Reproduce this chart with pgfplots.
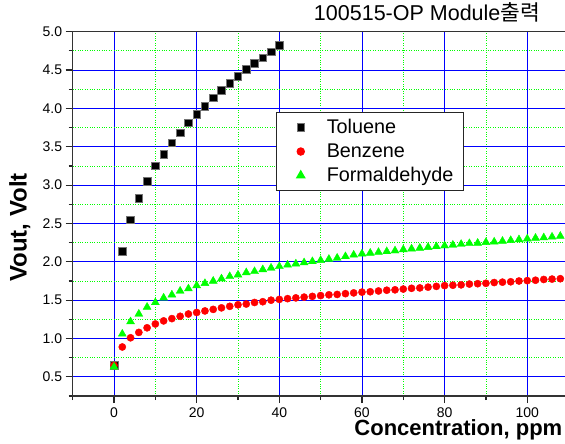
\documentclass[border=0pt]{standalone}
\usepackage{fontspec}
\setmainfont{Liberation Sans}
\newfontfamily\krfont{Noto Sans CJK KR}
\usepackage{pgfplots}
\pgfplotsset{compat=1.18}
\pgfplotsset{myleg/.style={legend image code/.code={%
  \path[draw=none,fill=none] (0pt,-3pt) rectangle (40pt,3pt);
  \draw[##1] plot coordinates {(16pt,0pt)};}}}

\begin{document}
\begin{tikzpicture}
\begin{axis}[
  name=ax,
  scale only axis,
  width=493.7pt, height=364.3pt,
  xmin=-10, xmax=109.5, ymin=0.25, ymax=5.0,
  xtick={0,20,...,100}, minor xtick={-10,10,30,50,70,90},
  ytick={0.5,1.0,...,5.0}, minor ytick={0.25,0.75,...,4.75},
  xtick pos=bottom, ytick pos=left,
  tick align=outside,
  major tick length=7pt, minor tick length=4pt,
  every tick/.style={black!85, line width=1.2pt},
  grid=both,
  major grid style={blue, line width=0.9pt},
  minor grid style={green, dotted, line width=0.8pt},
  axis line style={line width=1.5pt, black!80},
  ticklabel style={font=\fontsize{14}{16}\selectfont},
  x tick label style={inner ysep=0pt, yshift=-4.67pt, text depth=0pt},
  /pgf/number format/assume math mode=true,
  y tick label style={/pgf/number format/fixed, /pgf/number format/fixed zerofill, /pgf/number format/precision=1},
  xlabel={Concentration, ppm},
  ylabel={Vout, Volt},
  xlabel style={font=\bfseries\fontsize{22}{26}\selectfont, at={(axis description cs:0.781,0)}, anchor=base, yshift=-39.3pt, inner ysep=0pt, text height=14.5pt},
  ylabel style={font=\bfseries\fontsize{24}{28}\selectfont, at={(axis description cs:-0.107,0.4625)}, anchor=center},
  title={100515-OP Module{\krfont 출력}},
  title style={font=\fontsize{21.5}{25}\selectfont, at={(axis description cs:0.7175,1)}, anchor=base, yshift=5pt},
  legend style={at={(rel axis cs:0.412,0.7796)}, anchor=north west, draw=black!85, line width=1.2pt,
    font=\fontsize{19.8}{23}\selectfont, inner xsep=8pt, inner ysep=5pt, row sep=4.5pt},
  legend cell align=left,
]
\addplot[only marks, myleg, mark=square*, mark size=3.8pt, mark options={fill=black, draw=black!55, line width=0.6pt}] coordinates {
(0,0.65) (2,2.14) (4,2.55) (6,2.83) (8,3.05) (10,3.25) (12,3.40) (14,3.55) (16,3.68) (18,3.81)
(20,3.92) (22,4.03) (24,4.14) (26,4.24) (28,4.33) (30,4.42) (32,4.51) (34,4.59) (36,4.66) (38,4.74) (40,4.82)
};
\addlegendentry{Toluene}
\addplot[only marks, myleg, mark=*, mark size=3.6pt, mark options={fill=red, draw=red}] coordinates {
(0,0.65) (2,0.89) (4,1.01) (6,1.08) (8,1.14) (10,1.19) (12,1.23) (14,1.26) (16,1.29) (18,1.32)
(20,1.34) (22,1.36) (24,1.38) (26,1.40) (28,1.42) (30,1.44) (32,1.45) (34,1.47) (36,1.48) (38,1.50)
(40,1.51) (42,1.52) (44,1.53) (46,1.54) (48,1.55) (50,1.56) (52,1.57) (54,1.575) (56,1.585) (58,1.595)
(60,1.605) (62,1.61) (64,1.62) (66,1.63) (68,1.635) (70,1.645) (72,1.655) (74,1.66) (76,1.67) (78,1.68)
(80,1.69) (82,1.695) (84,1.70) (86,1.71) (88,1.715) (90,1.72) (92,1.73) (94,1.735) (96,1.74) (98,1.75)
(100,1.755) (102,1.76) (104,1.77) (106,1.775) (108,1.78)
};
\addlegendentry{Benzene}
\addplot[only marks, myleg, mark=triangle*, mark size=4.6pt, mark options={fill=green, draw=green}] coordinates {
(0,0.63) (2,1.06) (4,1.22) (6,1.32) (8,1.41) (10,1.47) (12,1.53) (14,1.57) (16,1.62) (18,1.65)
(20,1.69) (22,1.72) (24,1.75) (26,1.78) (28,1.81) (30,1.83) (32,1.86) (34,1.875) (36,1.90) (38,1.92)
(40,1.94) (42,1.96) (44,1.975) (46,1.99) (48,2.005) (50,2.02) (52,2.035) (54,2.05) (56,2.07) (58,2.09)
(60,2.105) (62,2.115) (64,2.125) (66,2.135) (68,2.145) (70,2.16) (72,2.17) (74,2.18) (76,2.19) (78,2.20)
(80,2.21) (82,2.22) (84,2.23) (86,2.24) (88,2.245) (90,2.255) (92,2.26) (94,2.27) (96,2.28) (98,2.29)
(100,2.30) (102,2.31) (104,2.315) (106,2.325) (108,2.335)
};
\addlegendentry{Formaldehyde}
\end{axis}
\pgfresetboundingbox
\path ([xshift=-72.7pt,yshift=31.7pt]ax.north west) rectangle ([xshift=-1.5pt,yshift=-47pt]ax.south east);
\end{tikzpicture}
\end{document}
